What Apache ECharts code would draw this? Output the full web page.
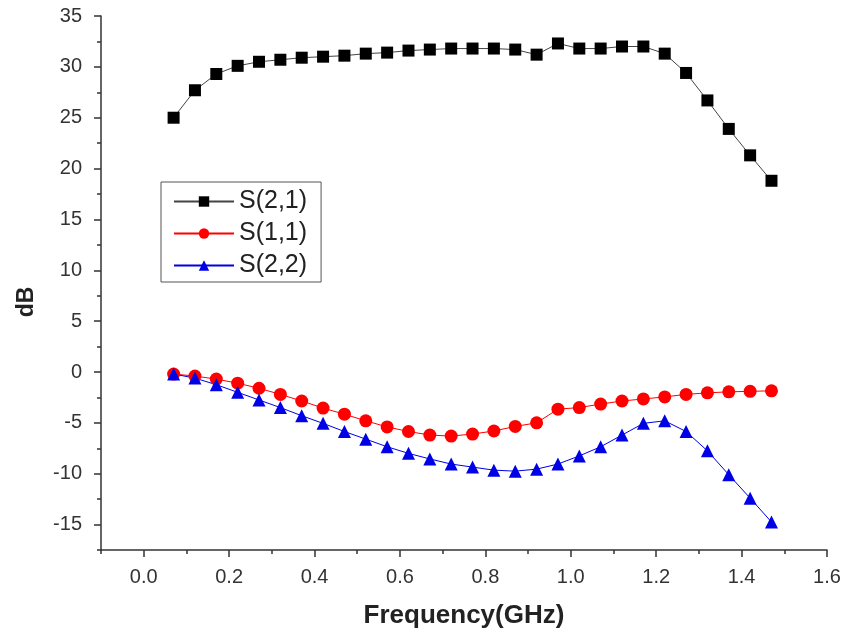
<!DOCTYPE html>
<html>
<head>
<meta charset="utf-8">
<script src="https://cdn.jsdelivr.net/npm/echarts@6/dist/echarts.min.js"></script>
<style>
  html, body { margin: 0; padding: 0; background: #fff; }
  #main { width: 844px; height: 635px; }
</style>
</head>
<body>
<div id="main"></div>
<script>
// frequency points (GHz)
var freq = [0.07, 0.12, 0.17, 0.22, 0.27, 0.32, 0.37, 0.42, 0.47, 0.52,
            0.57, 0.62, 0.67, 0.72, 0.77, 0.82, 0.87, 0.92, 0.97, 1.02,
            1.07, 1.12, 1.17, 1.22, 1.27, 1.32, 1.37, 1.42, 1.47];
// dB values
var s21 = [25.0, 27.7, 29.3, 30.1, 30.5, 30.7, 30.9, 31.0, 31.1, 31.3,
           31.4, 31.6, 31.7, 31.8, 31.8, 31.8, 31.7, 31.2, 32.3, 31.8,
           31.8, 32.0, 32.0, 31.3, 29.4, 26.7, 23.9, 21.3, 18.8];
var s11 = [-0.2, -0.4, -0.7, -1.1, -1.6, -2.2, -2.85, -3.55, -4.15, -4.8,
           -5.4, -5.85, -6.2, -6.3, -6.1, -5.8, -5.35, -5.0, -3.65, -3.5,
           -3.15, -2.85, -2.65, -2.45, -2.2, -2.05, -1.95, -1.9, -1.85];
var s22 = [-0.2, -0.6, -1.25, -2.0, -2.75, -3.5, -4.3, -5.05, -5.85, -6.6,
           -7.35, -8.0, -8.55, -9.05, -9.35, -9.65, -9.75, -9.55, -9.05, -8.25,
           -7.35, -6.2, -5.05, -4.8, -5.85, -7.75, -10.1, -12.4, -14.75];

var xMajor = [0.0, 0.2, 0.4, 0.6, 0.8, 1.0, 1.2, 1.4, 1.6];
var xMinor = [-0.1, 0.1, 0.3, 0.5, 0.7, 0.9, 1.1, 1.3, 1.5];
var yMajor = [-15, -10, -5, 0, 5, 10, 15, 20, 25, 30, 35];
var yMinor = [-17.5, -12.5, -7.5, -2.5, 2.5, 7.5, 12.5, 17.5, 22.5, 27.5, 32.5];

var font = 'Liberation Sans, Arial, sans-serif';

function pairs(ys) {
  return freq.map(function (x, i) { return [x, ys[i]]; });
}

var chart = echarts.init(document.getElementById('main'));
var option = {
  animation: false,
  backgroundColor: '#fff',
  grid: { left: 101, right: 17, top: 16, bottom: 85 },
  legend: {
    orient: 'vertical',
    left: 161,
    top: 182,
    padding: [7, 14, 4, 12],
    itemGap: 7,
    itemWidth: 60,
    itemHeight: 13,
    borderColor: '#555',
    borderWidth: 1,
    textStyle: { fontFamily: font, fontSize: 25, color: '#222' },
    data: ['S(2,1)', 'S(1,1)', 'S(2,2)']
  },
  xAxis: [{
    type: 'value',
    min: -0.1,
    max: 1.6,
    position: 'bottom',
    name: 'Frequency(GHz)',
    nameLocation: 'middle',
    nameGap: 53,
    nameTextStyle: { fontFamily: font, fontSize: 26, fontWeight: 'bold', color: '#222' },
    axisLine: { onZero: false, lineStyle: { color: '#333', width: 1.5 } },
    axisTick: { inside: false, length: 7, lineStyle: { color: '#333', width: 1.5 }, customValues: xMajor },
    axisLabel: {
      fontFamily: font, fontSize: 20, color: '#333', margin: 17,
      customValues: xMajor,
      formatter: function (v) { return v.toFixed(1); }
    },
    splitLine: { show: false }
  }, {
    type: 'value',
    min: -0.1,
    max: 1.6,
    position: 'bottom',
    axisLine: { show: false, onZero: false },
    axisTick: { length: 4, lineStyle: { color: '#333', width: 1.5 }, customValues: xMinor },
    axisLabel: { show: false },
    splitLine: { show: false }
  }],
  yAxis: [{
    type: 'value',
    min: -17.5,
    max: 35,
    position: 'left',
    name: 'dB',
    nameLocation: 'middle',
    nameGap: 63,
    nameTextStyle: { fontFamily: font, fontSize: 23, fontWeight: 'bold', color: '#222', padding: [0, 38, 0, 0] },
    axisLine: { onZero: false, lineStyle: { color: '#333', width: 1.5 } },
    axisTick: { length: 7, lineStyle: { color: '#333', width: 1.5 }, customValues: yMajor },
    axisLabel: { fontFamily: font, fontSize: 20, color: '#333', margin: 19, customValues: yMajor },
    splitLine: { show: false }
  }, {
    type: 'value',
    min: -17.5,
    max: 35,
    position: 'left',
    axisLine: { show: false, onZero: false },
    axisTick: { length: 4, lineStyle: { color: '#333', width: 1.5 }, customValues: yMinor },
    axisLabel: { show: false },
    splitLine: { show: false }
  }],
  series: [{
    name: 'S(2,1)',
    type: 'line',
    data: pairs(s21),
    symbol: 'rect',
    symbolSize: 12,
    itemStyle: { color: '#000' },
    lineStyle: { color: '#444', width: 1 }
  }, {
    name: 'S(1,1)',
    type: 'line',
    data: pairs(s11),
    symbol: 'circle',
    symbolSize: 13,
    itemStyle: { color: '#f00' },
    lineStyle: { color: '#f00', width: 1 }
  }, {
    name: 'S(2,2)',
    type: 'line',
    data: pairs(s22),
    symbol: 'triangle',
    symbolSize: 13,
    itemStyle: { color: '#0000e6' },
    lineStyle: { color: '#0000e6', width: 1 }
  }]
};
chart.setOption(option);
</script>
</body>
</html>
